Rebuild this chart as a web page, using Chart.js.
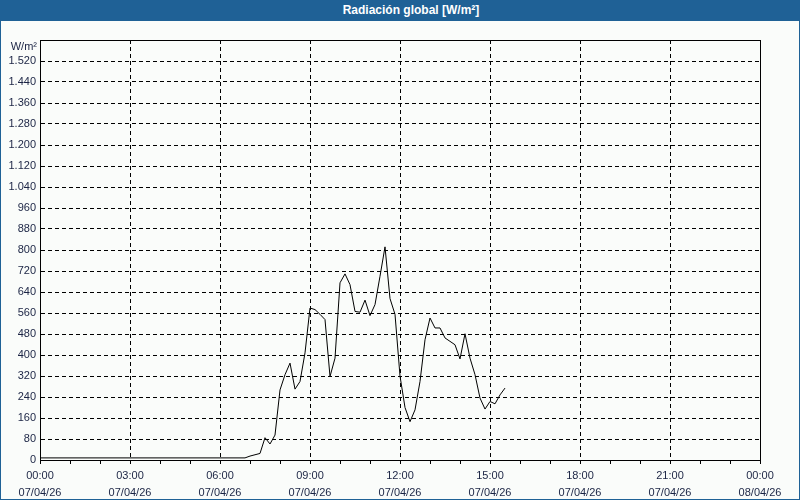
<!DOCTYPE html>
<html>
<head>
<meta charset="utf-8">
<script src="https://cdn.jsdelivr.net/npm/chart.js@4/dist/chart.umd.min.js"></script>
<style>
    body { margin: 0; }
    #marco {
        width: 800px; height: 500px; box-sizing: border-box;
        border: 1px solid #1f6196; background: #fafcfa; position: relative;
    }
    #titulo {
        height: 20px; background: #1f6196; color: #fff;
        font: bold 12px "Liberation Sans", sans-serif;
        line-height: 19px; text-align: center; padding-left: 22px;
    }
    #grafico { display: block; }
</style>
</head>
<body>
<div id="marco">
    <div id="titulo">Radiación global [W/m²]</div>
    <canvas id="grafico" width="798" height="478"></canvas>
</div>
<script>
// Lecturas cada 10 minutos (07/04/26)
const horas = [
    '00:00', '06:50', '07:00', '07:10', '07:20', '07:30', '07:40', '07:50',
    '08:00', '08:10', '08:20', '08:30', '08:40', '08:50',
    '09:00', '09:10', '09:20', '09:30', '09:40', '09:50',
    '10:00', '10:10', '10:20', '10:30', '10:40', '10:50',
    '11:00', '11:10', '11:20', '11:30', '11:40', '11:50',
    '12:00', '12:10', '12:20', '12:30', '12:40', '12:50',
    '13:00', '13:10', '13:20', '13:30', '13:40', '13:50',
    '14:00', '14:10', '14:20', '14:30', '14:40', '14:50',
    '15:00', '15:10', '15:20', '15:30'
];
const radiacion = [
    8, 8, 15, 20, 25, 85, 61, 95,
    267, 325, 369, 270, 299, 408,
    579, 573, 555, 535, 318, 388,
    675, 709, 668, 566, 563, 609,
    550, 592, 700, 812, 615, 555,
    320, 200, 146, 191, 299, 458,
    541, 503, 503, 465, 452, 439,
    385, 481, 388, 325, 236, 194,
    223, 214, 248, 274
];
const etiquetasHora = ['00:00', '03:00', '06:00', '09:00', '12:00', '15:00', '18:00', '21:00', '00:00'];
const etiquetasFecha = ['07/04/26', '07/04/26', '07/04/26', '07/04/26', '07/04/26', '07/04/26', '07/04/26', '07/04/26', '08/04/26'];

const puntos = horas.map((h, i) => {
    const [hh, mm] = h.split(':').map(Number);
    return { x: hh + mm / 60, y: radiacion[i] };
});

const colorTexto = '#1b2444';
const fuente = { family: '"Liberation Sans", sans-serif', size: 11 };

// marco negro del area de trazado + unidad arriba del eje Y
const marcoPlugin = {
    id: 'marco',
    afterDraw(chart) {
        const a = chart.chartArea;
        const ctx = chart.ctx;
        ctx.save();
        ctx.strokeStyle = '#000';
        ctx.lineWidth = 1;
        ctx.strokeRect(Math.round(a.left) + 0.5, Math.round(a.top) + 0.5,
            Math.round(a.right - a.left), Math.round(a.bottom - a.top));
        ctx.fillStyle = colorTexto;
        ctx.font = '11px "Liberation Sans", sans-serif';
        ctx.textAlign = 'right';
        ctx.textBaseline = 'middle';
        ctx.fillText('W/m²', a.left - 3, a.top + 7);
        ctx.restore();
    }
};

new Chart(document.getElementById('grafico'), {
    type: 'line',
    data: {
        datasets: [{
            data: puntos,
            borderColor: '#000',
            borderWidth: 1,
            pointRadius: 0,
            tension: 0,
            fill: false
        }]
    },
    options: {
        responsive: false,
        animation: false,
        layout: { padding: { top: 19, right: 39, bottom: 0, left: 0 } },
        plugins: { legend: { display: false }, tooltip: { enabled: false } },
        scales: {
            x: {
                type: 'linear',
                min: 0,
                max: 24,
                afterFit(s) { s.height = 39; },
                ticks: {
                    stepSize: 1,
                    autoSkip: false,
                    maxRotation: 0,
                    color: colorTexto,
                    font: { family: '"Liberation Sans", sans-serif', size: 11, lineHeight: 1.6 },
                    padding: 3,
                    callback: v => v % 3 === 0 ? [etiquetasHora[v / 3], etiquetasFecha[v / 3]] : ''
                },
                grid: {
                    color: c => (c.tick && c.tick.value % 3 === 0) ? '#000' : 'rgba(0,0,0,0)',
                    tickColor: '#000',
                    tickLength: 4,
                    lineWidth: 1
                },
                border: { color: '#000', dash: [4, 3] }
            },
            y: {
                min: 0,
                max: 1600,
                afterFit(s) { s.width = 39; },
                ticks: {
                    stepSize: 80,
                    color: colorTexto,
                    font: fuente,
                    padding: 4,
                    callback: v => v === 1600 ? '' : v.toLocaleString('es-ES', { useGrouping: 'always' }).replace(/\s/g, '.')
                },
                grid: { color: '#000', drawTicks: false, lineWidth: 1 },
                border: { color: '#000', dash: [4, 3] }
            }
        }
    },
    plugins: [marcoPlugin]
});
</script>
</body>
</html>
